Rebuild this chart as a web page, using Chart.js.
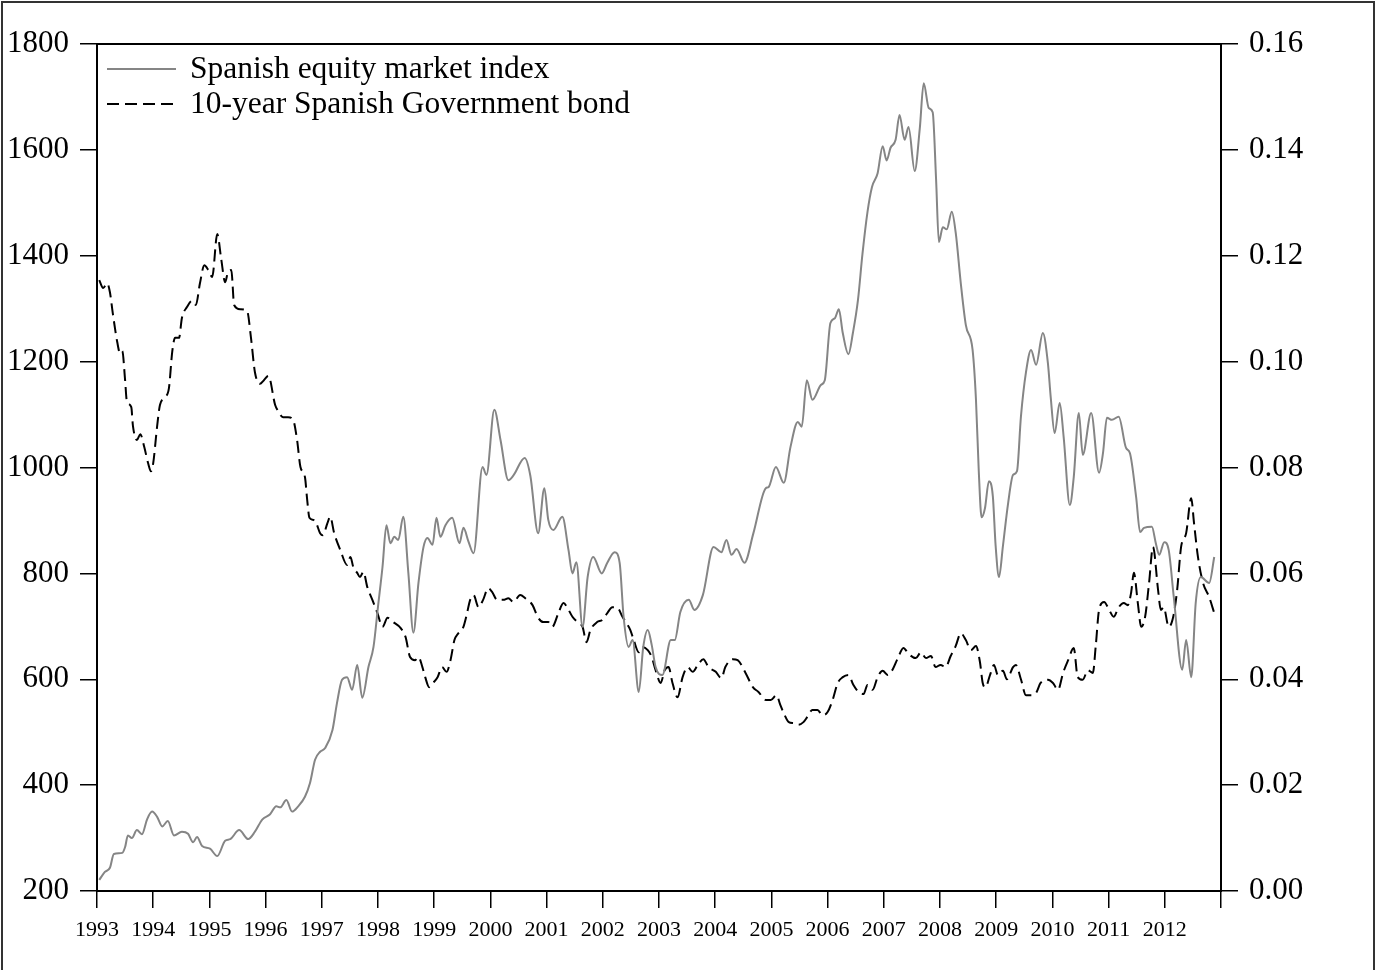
<!DOCTYPE html>
<html>
<head>
<meta charset="utf-8">
<script src="https://cdn.jsdelivr.net/npm/chart.js@4/dist/chart.umd.min.js"></script>
<style>
  html, body { margin: 0; padding: 0; background: #fff; }
</style>
</head>
<body>
<canvas id="chart" width="1377" height="970"></canvas>
<script>
// Spanish equity market index (left axis), dates as decimal years
const equityDates = [
  1993.04, 1993.14, 1993.23, 1993.30, 1993.45, 1993.50, 1993.55, 1993.62, 1993.71, 1993.80,
  1993.89, 1993.98, 1994.07, 1994.16, 1994.26, 1994.37, 1994.51, 1994.62, 1994.71, 1994.78,
  1994.87, 1995.01, 1995.14, 1995.28, 1995.37, 1995.53, 1995.69, 1995.81, 1995.94, 1996.08,
  1996.19, 1996.26, 1996.37, 1996.47, 1996.58, 1996.70, 1996.79, 1996.88, 1996.97, 1997.06,
  1997.19, 1997.27, 1997.36, 1997.45, 1997.54, 1997.63, 1997.72, 1997.83, 1997.92, 1998.00,
  1998.08, 1998.15, 1998.22, 1998.29, 1998.36, 1998.45, 1998.54, 1998.63, 1998.72, 1998.81,
  1998.88, 1998.97, 1999.04, 1999.11, 1999.20, 1999.32, 1999.45, 1999.52, 1999.61, 1999.70,
  1999.86, 1999.93, 2000.07, 2000.18, 2000.32, 2000.41, 2000.61, 2000.71, 2000.85, 2000.96,
  2001.03, 2001.12, 2001.28, 2001.39, 2001.46, 2001.53, 2001.64, 2001.73, 2001.83, 2001.98,
  2002.08, 2002.21, 2002.30, 2002.37, 2002.46, 2002.53, 2002.64, 2002.72, 2002.80, 2002.87,
  2002.94, 2003.06, 2003.21, 2003.28, 2003.38, 2003.53, 2003.63, 2003.78, 2003.97, 2004.11,
  2004.20, 2004.29, 2004.38, 2004.52, 2004.68, 2004.90, 2004.95, 2005.08, 2005.22, 2005.34,
  2005.47, 2005.54, 2005.63, 2005.73, 2005.88, 2005.95, 2006.05, 2006.13, 2006.20, 2006.27,
  2006.37, 2006.45, 2006.54, 2006.62, 2006.71, 2006.79, 2006.89, 2006.98, 2007.05, 2007.12,
  2007.21, 2007.28, 2007.37, 2007.44, 2007.55, 2007.64, 2007.71, 2007.80, 2007.87, 2007.93,
  2007.98, 2008.05, 2008.12, 2008.21, 2008.28, 2008.37, 2008.46, 2008.58, 2008.64, 2008.69,
  2008.74, 2008.80, 2008.87, 2008.94, 2008.99, 2009.05, 2009.12, 2009.21, 2009.30, 2009.37,
  2009.44, 2009.53, 2009.62, 2009.71, 2009.83, 2009.92, 2009.97, 2010.04, 2010.13, 2010.20,
  2010.31, 2010.38, 2010.47, 2010.54, 2010.69, 2010.83, 2010.90, 2010.97, 2011.06, 2011.18,
  2011.31, 2011.38, 2011.49, 2011.56, 2011.63, 2011.77, 2011.84, 2011.90, 2011.99, 2012.07,
  2012.16, 2012.31, 2012.38, 2012.47, 2012.55, 2012.64, 2012.79, 2012.88
];
const equityValues = [
  221, 236, 244, 270, 272, 283, 305, 300, 315, 307,
  335, 350, 340, 322, 332, 305, 312, 308, 292, 302,
  285, 280, 266, 295, 298, 315, 298, 312, 335, 345,
  360, 358, 372, 350, 360, 378, 404, 448, 463, 470,
  504, 555, 599, 604, 580, 627, 565, 623, 661, 737,
  812, 891, 857, 869, 863, 907, 801, 688, 782, 850,
  867, 854, 905, 869, 891, 905, 857, 886, 860, 838,
  1001, 986, 1109, 1052, 976, 985, 1018, 985, 876, 961,
  901, 882, 907, 844, 800, 821, 699, 793, 831, 800,
  820, 840, 820, 718, 661, 674, 576, 661, 693, 665,
  623, 608, 674, 674, 727, 750, 731, 759, 850, 840,
  863, 835, 846, 820, 876, 961, 963, 1001, 971, 1039,
  1086, 1077, 1165, 1128, 1156, 1165, 1273, 1282, 1299, 1254,
  1214, 1254, 1316, 1403, 1483, 1530, 1556, 1607, 1580, 1604,
  1619, 1666, 1619, 1643, 1560, 1640, 1726, 1679, 1671, 1545,
  1426, 1454, 1450, 1483, 1443, 1348, 1269, 1222, 1128, 993,
  906, 923, 974, 946, 852, 793, 852, 931, 986, 993,
  1096, 1180, 1222, 1194, 1254, 1197, 1133, 1065, 1122, 1058,
  929, 982, 1103, 1024, 1103, 990, 1027, 1094, 1090, 1096,
  1037, 1027, 944, 878, 886, 888, 857, 835, 859, 844,
  755, 618, 674, 604, 744, 793, 782, 831
];

// 10-year Spanish Government bond yield (right axis)
const bondDates = [
  1993.04, 1993.11, 1993.18, 1993.23, 1993.28, 1993.36, 1993.41, 1993.45, 1993.50, 1993.53,
  1993.61, 1993.64, 1993.71, 1993.77, 1993.84, 1993.91, 1993.96, 1994.00, 1994.07, 1994.12,
  1994.21, 1994.28, 1994.34, 1994.39, 1994.46, 1994.51, 1994.60, 1994.69, 1994.76, 1994.83,
  1994.91, 1994.98, 1995.05, 1995.14, 1995.21, 1995.28, 1995.33, 1995.39, 1995.44, 1995.55,
  1995.67, 1995.74, 1995.81, 1995.90, 1995.97, 1996.05, 1996.17, 1996.22, 1996.31, 1996.40,
  1996.49, 1996.56, 1996.62, 1996.70, 1996.74, 1996.78, 1996.85, 1996.90, 1996.97, 1997.02,
  1997.10, 1997.15, 1997.22, 1997.33, 1997.45, 1997.51, 1997.56, 1997.63, 1997.68, 1997.74,
  1997.81, 1997.90, 1997.99, 1998.08, 1998.17, 1998.27, 1998.40, 1998.49, 1998.57, 1998.66,
  1998.72, 1998.79, 1998.84, 1998.91, 1998.98, 1999.06, 1999.14, 1999.22, 1999.29, 1999.36,
  1999.43, 1999.52, 1999.57, 1999.64, 1999.70, 1999.79, 1999.87, 1999.96, 2000.03, 2000.12,
  2000.23, 2000.32, 2000.41, 2000.53, 2000.62, 2000.75, 2000.84, 2000.94, 2001.03, 2001.10,
  2001.21, 2001.30, 2001.37, 2001.46, 2001.55, 2001.64, 2001.71, 2001.78, 2001.90, 2001.99,
  2002.08, 2002.17, 2002.26, 2002.35, 2002.42, 2002.49, 2002.55, 2002.64, 2002.71, 2002.80,
  2002.87, 2002.94, 2003.03, 2003.10, 2003.17, 2003.24, 2003.33, 2003.42, 2003.51, 2003.60,
  2003.69, 2003.79, 2003.88, 2004.01, 2004.11, 2004.18, 2004.31, 2004.40, 2004.54, 2004.67,
  2004.77, 2004.90, 2004.99, 2005.09, 2005.16, 2005.22, 2005.31, 2005.40, 2005.48, 2005.57,
  2005.64, 2005.73, 2005.82, 2005.91, 2006.00, 2006.09, 2006.18, 2006.27, 2006.37, 2006.46,
  2006.55, 2006.64, 2006.71, 2006.80, 2006.89, 2006.98, 2007.07, 2007.16, 2007.25, 2007.35,
  2007.44, 2007.57, 2007.66, 2007.75, 2007.84, 2007.92, 2008.01, 2008.10, 2008.19, 2008.28,
  2008.37, 2008.46, 2008.55, 2008.64, 2008.71, 2008.76, 2008.81, 2008.89, 2008.96, 2009.03,
  2009.12, 2009.19, 2009.30, 2009.35, 2009.44, 2009.53, 2009.62, 2009.71, 2009.79, 2009.92,
  2010.01, 2010.10, 2010.19, 2010.28, 2010.38, 2010.45, 2010.54, 2010.63, 2010.72, 2010.77,
  2010.83, 2010.92, 2011.01, 2011.09, 2011.18, 2011.27, 2011.34, 2011.40, 2011.45, 2011.52,
  2011.58, 2011.65, 2011.72, 2011.79, 2011.88, 2011.93, 2011.98, 2012.07, 2012.15, 2012.22,
  2012.29, 2012.38, 2012.47, 2012.52, 2012.59, 2012.68, 2012.79, 2012.88
];
const bondValues = [
  0.1154, 0.1139, 0.1148, 0.1131, 0.1092, 0.1037, 0.1016, 0.1020, 0.0965, 0.0926,
  0.0914, 0.0878, 0.0852, 0.0863, 0.0839, 0.0808, 0.0793, 0.0808, 0.0878, 0.0918,
  0.0933, 0.0950, 0.1020, 0.1045, 0.1045, 0.1082, 0.1103, 0.1115, 0.1107, 0.1147,
  0.1182, 0.1173, 0.1160, 0.1241, 0.1194, 0.1150, 0.1169, 0.1173, 0.1107, 0.1099,
  0.1096, 0.1045, 0.0980, 0.0958, 0.0965, 0.0973, 0.0918, 0.0907, 0.0895, 0.0895,
  0.0890, 0.0852, 0.0801, 0.0782, 0.0739, 0.0705, 0.0701, 0.0695, 0.0676, 0.0672,
  0.0695, 0.0707, 0.0676, 0.0644, 0.0616, 0.0631, 0.0612, 0.0601, 0.0593, 0.0603,
  0.0574, 0.0550, 0.0525, 0.0499, 0.0516, 0.0508, 0.0497, 0.0480, 0.0442, 0.0436,
  0.0442, 0.0423, 0.0404, 0.0385, 0.0393, 0.0404, 0.0423, 0.0414, 0.0436, 0.0474,
  0.0487, 0.0499, 0.0518, 0.0550, 0.0559, 0.0536, 0.0550, 0.0572, 0.0565, 0.0550,
  0.0550, 0.0553, 0.0546, 0.0559, 0.0553, 0.0540, 0.0518, 0.0508, 0.0508, 0.0499,
  0.0525, 0.0544, 0.0535, 0.0518, 0.0508, 0.0499, 0.0470, 0.0493, 0.0508, 0.0512,
  0.0525, 0.0536, 0.0535, 0.0518, 0.0506, 0.0493, 0.0474, 0.0451, 0.0461, 0.0455,
  0.0442, 0.0417, 0.0393, 0.0417, 0.0423, 0.0393, 0.0366, 0.0404, 0.0423, 0.0414,
  0.0427, 0.0438, 0.0423, 0.0414, 0.0402, 0.0423, 0.0438, 0.0436, 0.0412, 0.0385,
  0.0376, 0.0361, 0.0361, 0.0370, 0.0351, 0.0336, 0.0319, 0.0317, 0.0314, 0.0319,
  0.0329, 0.0342, 0.0342, 0.0332, 0.0338, 0.0361, 0.0393, 0.0404, 0.0408, 0.0389,
  0.0376, 0.0372, 0.0389, 0.0380, 0.0404, 0.0416, 0.0408, 0.0419, 0.0440, 0.0459,
  0.0448, 0.0440, 0.0451, 0.0440, 0.0444, 0.0423, 0.0427, 0.0423, 0.0444, 0.0463,
  0.0487, 0.0474, 0.0455, 0.0463, 0.0433, 0.0393, 0.0385, 0.0408, 0.0427, 0.0408,
  0.0416, 0.0400, 0.0423, 0.0427, 0.0400, 0.0370, 0.0370, 0.0374, 0.0393, 0.0399,
  0.0393, 0.0380, 0.0412, 0.0436, 0.0459, 0.0404, 0.0399, 0.0417, 0.0412, 0.0461,
  0.0531, 0.0546, 0.0531, 0.0518, 0.0536, 0.0544, 0.0540, 0.0563, 0.0601, 0.0544,
  0.0499, 0.0518, 0.0582, 0.0650, 0.0569, 0.0531, 0.0536, 0.0499, 0.0518, 0.0569,
  0.0650, 0.0676, 0.0742, 0.0695, 0.0631, 0.0582, 0.0555, 0.0525
];

const seriesLabels = ['Spanish equity market index', '10-year Spanish Government bond'];
const yearTicks = [1993, 1994, 1995, 1996, 1997, 1998, 1999, 2000, 2001, 2002,
                   2003, 2004, 2005, 2006, 2007, 2008, 2009, 2010, 2011, 2012];

const serif = "'Liberation Serif', 'Times New Roman', serif";

// box around plot, outer frame and the legend in the top-left corner
const framePlugin = {
  id: 'frame',
  afterDraw(chart) {
    const ctx = chart.ctx;
    const a = chart.chartArea;
    ctx.save();
    ctx.setLineDash([]);
    ctx.strokeStyle = '#000';
    ctx.lineWidth = 2;
    ctx.strokeRect(a.left, a.top, a.right - a.left, a.bottom - a.top);

    // outer frame: left, top and right edges only
    ctx.strokeStyle = '#333';
    ctx.beginPath();
    ctx.moveTo(2, chart.height);
    ctx.lineTo(2, 2);
    ctx.lineTo(chart.width - 3, 2);
    ctx.lineTo(chart.width - 3, chart.height);
    ctx.stroke();

    chart.data.datasets.forEach((ds, i) => {
      const y = 69 + i * 35;
      ctx.beginPath();
      ctx.setLineDash(ds.borderDash || []);
      ctx.strokeStyle = ds.borderColor;
      ctx.lineWidth = ds.borderWidth;
      ctx.moveTo(107, y);
      ctx.lineTo(176, y);
      ctx.stroke();
      ctx.setLineDash([]);
      ctx.fillStyle = '#000';
      ctx.font = '31.5px ' + serif;
      ctx.textBaseline = 'alphabetic';
      ctx.textAlign = 'left';
      ctx.fillText(ds.label, 190, y + 9);
    });
    ctx.restore();
  }
};

const axisGrid = { drawOnChartArea: false, drawTicks: true, tickLength: 17, color: '#000', lineWidth: 1.5 };
const axisBorder = { display: true, color: '#000', width: 2 };

new Chart(document.getElementById('chart'), {
  type: 'line',
  data: {
    datasets: [{
      label: seriesLabels[0],
      data: equityDates.map((d, i) => ({ x: d, y: equityValues[i] })),
      yAxisID: 'yLeft',
      borderColor: '#858585',
      borderWidth: 2,
      pointRadius: 0,
      cubicInterpolationMode: 'monotone',
      fill: false
    }, {
      label: seriesLabels[1],
      data: bondDates.map((d, i) => ({ x: d, y: bondValues[i] })),
      yAxisID: 'yRight',
      borderColor: '#000',
      borderWidth: 2,
      borderDash: [12, 6],
      pointRadius: 0,
      cubicInterpolationMode: 'monotone',
      fill: false
    }]
  },
  options: {
    responsive: false,
    animation: false,
    devicePixelRatio: 1,
    layout: { padding: { top: 44, left: 0, right: 0, bottom: 0 } },
    plugins: { legend: { display: false }, tooltip: { enabled: false } },
    scales: {
      x: {
        type: 'linear',
        min: 1993,
        max: 2013,
        grid: axisGrid,
        border: axisBorder,
        afterFit(scale) { scale.height = 79; },
        afterBuildTicks(scale) {
          scale.ticks = yearTicks.concat([2013]).map(v => ({ value: v }));
        },
        ticks: {
          autoSkip: false,
          maxRotation: 0,
          padding: 9,
          color: '#000',
          font: { family: serif, size: 22 },
          callback: v => (yearTicks.includes(v) ? String(v) : '')
        }
      },
      yLeft: {
        position: 'left',
        min: 200,
        max: 1800,
        grid: axisGrid,
        border: axisBorder,
        afterFit(scale) { scale.width = 97; },
        ticks: {
          stepSize: 200,
          padding: 11,
          color: '#000',
          font: { family: serif, size: 31 },
          callback: v => String(v)
        }
      },
      yRight: {
        position: 'right',
        min: 0,
        max: 0.16,
        grid: axisGrid,
        border: axisBorder,
        afterFit(scale) { scale.width = 156; },
        ticks: {
          stepSize: 0.02,
          padding: 11,
          color: '#000',
          font: { family: serif, size: 31 },
          callback: v => v.toFixed(2)
        }
      }
    }
  },
  plugins: [framePlugin]
});
</script>
</body>
</html>
